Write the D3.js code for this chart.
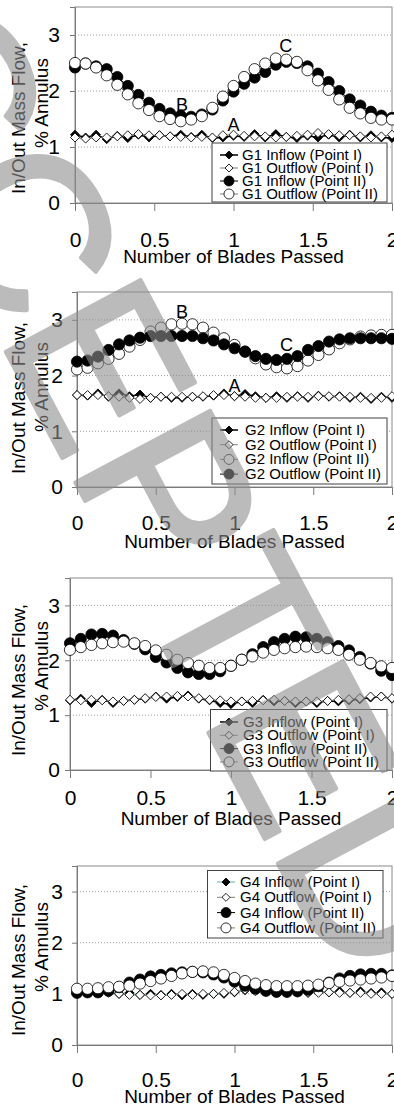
<!DOCTYPE html>
<html>
<head>
<meta charset="utf-8">
<script src="https://cdn.jsdelivr.net/npm/d3@7"></script>
<style>
  body { margin: 0; background: #fff; }
  svg { display: block; font-family: "Liberation Sans", Arial, sans-serif; }
</style>
</head>
<body>
<svg id="chart" width="394" height="1113"></svg>
<script>
// x positions: number of blades passed
const bladesPassed = [0, 0.067, 0.133, 0.2, 0.267, 0.333, 0.4, 0.467, 0.533, 0.6, 0.667, 0.733, 0.8, 0.867, 0.933, 1,
  1.067, 1.133, 1.2, 1.267, 1.333, 1.4, 1.467, 1.533, 1.6, 1.667, 1.733, 1.8, 1.867, 1.933, 2];
const xTicks = [0, 0.5, 1, 1.5, 2];
const yTicks = [0, 1, 2, 3];
const gridValues = [1, 2, 3];

// G1
const g1InflowI = [1.22, 1.17, 1.22, 1.14, 1.2, 1.16, 1.22, 1.17, 1.21, 1.19, 1.22, 1.18, 1.22, 1.16, 1.17, 1.2,
  1.18, 1.23, 1.17, 1.23, 1.18, 1.16, 1.2, 1.17, 1.22, 1.17, 1.22, 1.17, 1.21, 1.17, 1.16];
const g1OutflowI = [1.17, 1.15, 1.17, 1.17, 1.19, 1.21, 1.23, 1.21, 1.21, 1.19, 1.18, 1.17, 1.18, 1.17, 1.21, 1.22,
  1.2, 1.19, 1.19, 1.17, 1.18, 1.2, 1.22, 1.25, 1.23, 1.21, 1.21, 1.19, 1.17, 1.19, 1.22];
const g1InflowII = [2.42, 2.49, 2.44, 2.39, 2.25, 2.09, 1.93, 1.79, 1.68, 1.6, 1.56, 1.54, 1.58, 1.67, 1.83, 1.99,
  2.13, 2.24, 2.34, 2.47, 2.52, 2.5, 2.44, 2.31, 2.16, 2.0, 1.85, 1.74, 1.63, 1.56, 1.52];
const g1OutflowII = [2.5, 2.49, 2.42, 2.28, 2.11, 1.94, 1.78, 1.66, 1.55, 1.5, 1.46, 1.49, 1.55, 1.7, 1.9, 2.09,
  2.25, 2.39, 2.49, 2.58, 2.56, 2.52, 2.37, 2.19, 2.02, 1.85, 1.7, 1.6, 1.52, 1.49, 1.49];

// G2
const g2InflowI = [1.65, 1.64, 1.68, 1.62, 1.68, 1.63, 1.66, 1.6, 1.62, 1.6, 1.6, 1.62, 1.62, 1.64, 1.68, 1.63,
  1.67, 1.63, 1.6, 1.63, 1.6, 1.63, 1.6, 1.64, 1.62, 1.63, 1.6, 1.62, 1.58, 1.62, 1.6];
const g2OutflowI = [1.65, 1.65, 1.65, 1.63, 1.62, 1.6, 1.58, 1.6, 1.62, 1.62, 1.62, 1.62, 1.63, 1.65, 1.65, 1.63,
  1.62, 1.6, 1.6, 1.6, 1.62, 1.62, 1.62, 1.63, 1.63, 1.62, 1.62, 1.6, 1.6, 1.6, 1.63];
const g2InflowII = [2.11, 2.14, 2.22, 2.3, 2.39, 2.52, 2.64, 2.79, 2.86, 2.92, 2.93, 2.92, 2.86, 2.77, 2.67, 2.55,
  2.43, 2.31, 2.2, 2.15, 2.13, 2.17, 2.27, 2.37, 2.47, 2.58, 2.65, 2.7, 2.72, 2.73, 2.73];
const g2OutflowII = [2.25, 2.27, 2.34, 2.46, 2.56, 2.63, 2.68, 2.71, 2.71, 2.71, 2.71, 2.71, 2.67, 2.63, 2.56, 2.49,
  2.43, 2.35, 2.3, 2.28, 2.3, 2.35, 2.46, 2.53, 2.61, 2.65, 2.67, 2.67, 2.67, 2.67, 2.66];

// G3
const g3InflowI = [1.27, 1.3, 1.22, 1.28, 1.22, 1.26, 1.28, 1.3, 1.34, 1.3, 1.33, 1.36, 1.3, 1.27, 1.22, 1.2,
  1.25, 1.22, 1.28, 1.25, 1.26, 1.22, 1.25, 1.22, 1.26, 1.25, 1.27, 1.29, 1.32, 1.34, 1.3];
const g3OutflowI = [1.28, 1.27, 1.28, 1.27, 1.25, 1.26, 1.28, 1.31, 1.33, 1.34, 1.35, 1.34, 1.31, 1.28, 1.27, 1.25,
  1.25, 1.26, 1.27, 1.28, 1.26, 1.25, 1.25, 1.25, 1.26, 1.28, 1.29, 1.31, 1.34, 1.34, 1.31];
const g3InflowII = [2.31, 2.39, 2.47, 2.48, 2.45, 2.37, 2.3, 2.2, 2.06, 1.96, 1.86, 1.78, 1.75, 1.75, 1.8, 1.9,
  2.01, 2.11, 2.24, 2.33, 2.39, 2.43, 2.42, 2.39, 2.33, 2.26, 2.18, 2.06, 1.94, 1.81, 1.73];
const g3OutflowII = [2.19, 2.24, 2.28, 2.31, 2.33, 2.34, 2.31, 2.26, 2.18, 2.1, 2.01, 1.95, 1.9, 1.86, 1.86, 1.9,
  2.01, 2.07, 2.14, 2.19, 2.22, 2.24, 2.25, 2.24, 2.22, 2.19, 2.1, 2.01, 1.95, 1.89, 1.86];

// G4
const g4InflowI = [1.03, 1.05, 1.02, 1.05, 1.0, 1.02, 0.98, 1.0, 0.98, 1.0, 0.97, 1.0, 0.98, 1.0, 1.0, 1.03,
  1.07, 1.1, 1.05, 1.05, 1.02, 1.04, 1.02, 1.05, 1.03, 1.05, 1.02, 1.05, 1.02, 1.03, 1.0];
const g4OutflowI = [1.05, 1.02, 1.05, 1.02, 1.0, 0.98, 0.98, 0.97, 0.97, 0.98, 1.0, 0.98, 1.0, 1.0, 1.02, 1.04,
  1.08, 1.05, 1.04, 1.02, 1.03, 1.03, 1.02, 1.02, 1.03, 1.02, 1.02, 1.02, 1.0, 1.0, 1.0];
const g4InflowII = [1.02, 1.03, 1.03, 1.06, 1.13, 1.22, 1.28, 1.34, 1.37, 1.4, 1.42, 1.43, 1.42, 1.38, 1.32, 1.24,
  1.16, 1.1, 1.06, 1.04, 1.04, 1.05, 1.08, 1.15, 1.22, 1.3, 1.35, 1.38, 1.39, 1.39, 1.36];
const g4OutflowII = [1.1, 1.1, 1.11, 1.13, 1.14, 1.16, 1.2, 1.25, 1.3, 1.35, 1.4, 1.43, 1.44, 1.42, 1.37, 1.31,
  1.25, 1.2, 1.17, 1.15, 1.15, 1.15, 1.16, 1.18, 1.21, 1.24, 1.26, 1.28, 1.3, 1.32, 1.35];

const svg = d3.select('#chart');

// series style: marker 'diamond' | 'circle', filled or open
function seriesSet(name, inI, outI, inII, outII, opts = {}) {
  const openInII = !!opts.openInflowII;
  return [
    { label: `${name} Inflow (Point I)`, values: inI, marker: 'diamond', filled: true, line: opts.inILine || '#000', lw: 1.5 },
    { label: `${name} Outflow (Point I)`, values: outI, marker: 'diamond', filled: false, line: '#808080', lw: 1 },
    { label: `${name} Inflow (Point II)`, values: inII, marker: 'circle', filled: !openInII, line: openInII ? '#808080' : '#000', lw: 1 },
    { label: `${name} Outflow (Point II)`, values: outII, marker: 'circle', filled: openInII, line: openInII ? '#000' : '#808080', lw: 1 },
  ];
}

const panels = [
  {
    left: 75, right: 392, top: 7, bottom: 203, xPad: 21, yPad: 10,
    title1: 118, title2: 103, xTitle: 263,
    series: seriesSet('G1', g1InflowI, g1OutflowI, g1InflowII, g1OutflowII),
    notes: [['A', 1.0, 1.28], ['B', 0.675, 1.64], ['C', 1.33, 2.7]],
    legend: { x: 212, y: 143, w: 175, h: 59, base: 160, step: 13, symX: 229, textX: 242 },
  },
  {
    left: 77, right: 392, top: 292, bottom: 487, xPad: 20, yPad: 9,
    title1: 398, title2: 387, xTitle: 548,
    series: seriesSet('G2', g2InflowI, g2OutflowI, g2InflowII, g2OutflowII, { openInflowII: true }),
    notes: [['A', 1.0, 1.7], ['B', 0.667, 3.04], ['C', 1.33, 2.44]],
    legend: { x: 212, y: 418, w: 175, h: 66, base: 435, step: 14.7, symX: 229, textX: 245 },
  },
  {
    left: 70, right: 392, top: 578, bottom: 770, xPad: 12, yPad: 5,
    title1: 680, title2: 666, xTitle: 825,
    series: seriesSet('G3', g3InflowI, g3OutflowI, g3InflowII, g3OutflowII),
    notes: [],
    legend: { x: 210.5, y: 709.5, w: 176.5, h: 61.5, base: 727, step: 13.3, symX: 229, textX: 243 },
  },
  {
    left: 77, right: 392, top: 866, bottom: 1045, xPad: 19, yPad: 9,
    title1: 960, title2: 947, xTitle: 1103,
    series: seriesSet('G4', g4InflowI, g4OutflowI, g4InflowII, g4OutflowII, { inILine: '#8fcaca' }),
    notes: [],
    legend: { x: 207.5, y: 870.5, w: 175.5, h: 67.5, base: 887, step: 15.3, symX: 226, textX: 240 },
  },
];

function drawMarker(sel, s, r) {
  if (s.marker === 'diamond') {
    sel.append('path')
      .attr('d', d3.symbol(d3.symbolSquare, r * r * 2)())
      .attr('transform', 'rotate(45)')
      .attr('fill', s.filled ? '#000' : '#fff')
      .attr('stroke', '#000').attr('stroke-width', 0.8);
  } else {
    sel.append('circle').attr('r', r)
      .attr('fill', s.filled ? '#000' : '#fff')
      .attr('stroke', '#000').attr('stroke-width', 0.8);
  }
}

function drawPanel(p) {
  const x = d3.scaleLinear().domain([0, 2]).range([p.left, p.right]);
  const y = d3.scaleLinear().domain([0, 3.5]).range([p.bottom, p.top]);
  const g = svg.append('g');

  g.selectAll('line.grid').data(gridValues).join('line')
    .attr('class', 'grid')
    .attr('x1', p.left).attr('x2', p.right)
    .attr('y1', (d) => y(d)).attr('y2', (d) => y(d))
    .attr('stroke', '#a0a0a0').attr('stroke-dasharray', '1,2');

  g.append('rect')
    .attr('x', p.left).attr('y', p.top)
    .attr('width', p.right - p.left).attr('height', p.bottom - p.top)
    .attr('fill', 'none').attr('stroke', '#8a8a8a');

  const xAxis = g.append('g').attr('transform', `translate(0,${p.bottom})`)
    .call(d3.axisBottom(x).tickValues(xTicks).tickSize(8).tickPadding(p.xPad).tickFormat(d3.format('~g')));
  const yAxis = g.append('g').attr('transform', `translate(${p.left},0)`)
    .call(d3.axisLeft(y).tickValues(yTicks).tickSize(5).tickPadding(p.yPad).tickFormat(d3.format('~g')));
  [xAxis, yAxis].forEach((a) => {
    a.attr('font-family', null).attr('font-size', null);
    a.select('.domain').attr('stroke', '#7a7a7a');
    a.selectAll('.tick line').attr('stroke', '#7a7a7a');
    a.selectAll('.tick text').attr('font-size', 21).attr('fill', '#000');
  });

  // series: lines then markers, in legend order
  p.series.forEach((s) => {
    const pts = s.values.map((v, i) => [bladesPassed[i], v]);
    g.append('path').datum(pts)
      .attr('d', d3.line().x((d) => x(d[0])).y((d) => y(d[1])))
      .attr('fill', 'none').attr('stroke', s.line).attr('stroke-width', s.lw);
    const r = s.marker === 'diamond' ? 4.5 : 5.6;
    g.selectAll(null).data(pts).join('g')
      .attr('transform', (d) => `translate(${x(d[0])},${y(d[1])})`)
      .each(function () { drawMarker(d3.select(this), s, r); });
  });

  g.selectAll('text.note').data(p.notes).join('text')
    .attr('class', 'note')
    .attr('x', (d) => x(d[1])).attr('y', (d) => y(d[2]))
    .attr('text-anchor', 'middle').attr('font-size', 18)
    .text((d) => d[0]);

  // legend
  const L = p.legend;
  const lg = g.append('g');
  lg.append('rect').attr('x', L.x).attr('y', L.y).attr('width', L.w).attr('height', L.h)
    .attr('fill', '#fff').attr('stroke', '#404040');
  p.series.forEach((s, i) => {
    const by = L.base + i * L.step;
    const row = lg.append('g');
    row.append('line').attr('x1', L.symX - 9).attr('x2', L.symX + 9)
      .attr('y1', by - 5).attr('y2', by - 5)
      .attr('stroke', s.line).attr('stroke-width', s.lw);
    const m = row.append('g').attr('transform', `translate(${L.symX},${by - 5})`);
    drawMarker(m, s, s.marker === 'diamond' ? 4 : 5);
    row.append('text').attr('x', L.textX).attr('y', by).attr('font-size', 15).text(s.label);
  });

  // axis titles
  g.append('text').attr('transform', `translate(25,${p.title1}) rotate(-90)`)
    .attr('text-anchor', 'middle').attr('font-size', 19).text('In/Out Mass Flow,');
  g.append('text').attr('transform', `translate(48,${p.title2}) rotate(-90)`)
    .attr('text-anchor', 'middle').attr('font-size', 19).text('% Annulus');
  g.append('text').attr('x', (p.left + p.right) / 2).attr('y', p.xTitle)
    .attr('text-anchor', 'middle').attr('font-size', 19).text('Number of Blades Passed');
}

panels.forEach(drawPanel);

// watermark over everything
const wm = svg.append('text').text('ACCEPTED')
  .attr('font-size', 222)
  .attr('fill', '#8e8e8e').attr('stroke', '#8e8e8e').attr('stroke-width', 4)
  .attr('stroke-linejoin', 'round')
  .attr('opacity', 0.6);
const node = wm.node();
const pre = node.getSubStringLength(0, 5);
const tw = node.getSubStringLength(5, 1);
const ang = 62;
const rad = (ang * Math.PI) / 180;
const ox = 168 - Math.cos(rad) * (pre + tw / 2);
const oy = 657 - Math.sin(rad) * (pre + tw / 2);
wm.attr('transform', `translate(${ox},${oy}) rotate(${ang})`);
</script>
</body>
</html>
